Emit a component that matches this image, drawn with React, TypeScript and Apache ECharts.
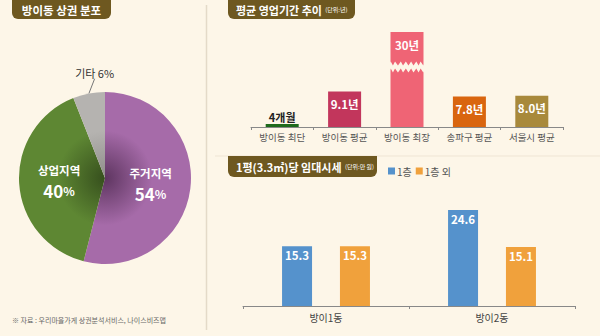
import React, { useEffect, useRef } from 'react';
import * as echarts from 'echarts';

const pieNames = ['주거지역', '상업지역', '기타'];
const pieValues = [54, 40, 6];

const periodCats = ['방이동 최단', '방이동 평균', '방이동 최장', '송파구 평균', '서울시 평균'];
const periodValues = [0.33, 9.1, 30, 7.8, 8.0];
const periodLabels = ['4개월', '9.1년', '30년', '7.8년', '8.0년'];

const rentCats = ['방이1동', '방이2동'];
const rentSeriesNames = ['1층', '1층 외'];
const rentFirst = [15.3, 24.6];
const rentOther = [15.3, 15.1];

const BG = '#fdf6e8';
const FONT = '"Noto Sans CJK KR", "Noto Sans", sans-serif';
const BOX = '#6e5820';

const pieColors = [
  ['#5e3560', '#a66ba9'],
  ['#364f1d', '#5e8733'],
  ['#8f8d8a', '#b5b3b0'],
];
const periodColors = ['#1e6a1c', '#c2365c', '#ef6475', '#d9650f', '#a8893b'];
const rentColors = ['#5592cc', '#f0a13c'];

export default function App() {
  const ref = useRef<HTMLDivElement>(null);
  useEffect(() => {
    if (!ref.current) return;
    const chart = echarts.init(ref.current, undefined, { renderer: 'svg' });
    const pieCenter = [105, 178];
    const pieR = 86;
    const radial = (c: string[]) => ({
      type: 'radial',
      x: pieCenter[0],
      y: pieCenter[1],
      r: pieR,
      global: true,
      colorStops: [
        { offset: 0, color: c[0] },
        { offset: 0.55, color: c[1] },
        { offset: 1, color: c[1] },
      ],
    });
    const option: any = {
      animation: false,
      backgroundColor: BG,
      textStyle: { fontFamily: FONT },
      legend: {
        data: rentSeriesNames,
        left: 383,
        top: 161,
        itemWidth: 7,
        itemHeight: 7,
        itemGap: 4,
        icon: 'rect',
        textStyle: { fontSize: 10, color: '#555', fontFamily: FONT, padding: [0, 0, 0, -3] },
      },
      grid: [
        { left: 251, right: 37, top: 32, bottom: 209, containLabel: false },
        { left: 243, right: 25, top: 189, bottom: 30, containLabel: false },
      ],
      xAxis: [
        {
          type: 'category',
          gridIndex: 0,
          data: periodCats,
          axisLine: { lineStyle: { color: '#888', width: 1 } },
          axisTick: { show: true, length: 3, lineStyle: { color: '#888' } },
          axisLabel: { color: '#555', fontSize: 9.5, margin: 5, interval: 0, fontFamily: FONT },
        },
        {
          type: 'category',
          gridIndex: 1,
          data: rentCats,
          axisLine: { lineStyle: { color: '#888', width: 1 } },
          axisTick: { show: true, length: 3, lineStyle: { color: '#888' } },
          axisLabel: { color: '#444', fontSize: 10, margin: 6, interval: 0, fontFamily: FONT },
        },
      ],
      yAxis: [
        {
          type: 'value',
          gridIndex: 0,
          min: 0,
          max: 30,
          show: true,
          axisLine: { show: false },
          axisTick: { show: false },
          axisLabel: { show: false },
          splitLine: { show: false },
          breaks: [{ start: 14.6, end: 22, gap: '7%' }],
          breakArea: {
            show: true,
            itemStyle: { color: BG, borderColor: BG, borderWidth: 0, opacity: 1 },
            zigzagAmplitude: 2,
            zigzagMinSpan: 2,
            zigzagMaxSpan: 3,
            zigzagZ: 100,
            expandOnClick: false,
          },
          breakLabelLayout: { moveOverlap: false },
        },
        {
          type: 'value',
          gridIndex: 1,
          min: 0,
          max: 30,
          show: false,
          splitLine: { show: false },
        },
      ],
      series: [
        {
          type: 'pie',
          center: pieCenter,
          radius: pieR,
          startAngle: 90,
          clockwise: true,
          avoidLabelOverlap: false,
          itemStyle: { borderWidth: 0 },
          labelLayout: (p: any) => {
            if (p.dataIndex !== 2 || !p.labelLinePoints) return {};
            const pts = p.labelLinePoints;
            const end = pts[pts.length - 1];
            return { x: end[0] + 8, y: end[1] - 3, align: 'center', verticalAlign: 'bottom' };
          },
          data: pieNames.map((n, i) => ({
            name: n,
            value: pieValues[i],
            itemStyle: { color: radial(pieColors[i]) },
            label:
              i < 2
                ? {
                    show: true,
                    position: 'inside',
                    formatter: (p: any) => `{n|${p.name}}\n{v|${p.value}}{q|%}`,
                    rich: {
                      n: { fontSize: 11.5, fontWeight: 'bold', color: '#fff', fontFamily: FONT, lineHeight: 20 },
                      v: { fontSize: 17, fontWeight: 'bold', color: '#fff', fontFamily: FONT, lineHeight: 22 },
                      q: { fontSize: 12, fontWeight: 'bold', color: '#fff', fontFamily: FONT, lineHeight: 22 },
                    },
                  }
                : {
                    show: true,
                    position: 'outside',
                    formatter: (p: any) => `${p.name} ${p.value}%`,
                    color: '#333',
                    fontSize: 11,
                    fontFamily: FONT,
                  },
            labelLine:
              i < 2
                ? { show: false }
                : { show: true, length: 12, length2: 0, lineStyle: { color: '#777', width: 1 } },
          })),
        },
        {
          type: 'bar',
          xAxisIndex: 0,
          yAxisIndex: 0,
          barWidth: 33,
          barMinHeight: 3,
          data: periodValues.map((v, i) => ({
            value: v,
            itemStyle: { color: periodColors[i] },
            label:
              i === 0
                ? { show: true, position: 'top', distance: 2, color: '#222', fontWeight: 'bold', fontSize: 11 }
                : { show: true, position: 'insideTop', distance: 7, color: '#fff', fontWeight: 'bold', fontSize: 11.5 },
          })),
          label: {
            fontFamily: FONT,
            formatter: (p: any) => periodLabels[p.dataIndex],
          },
        },
        ...[rentFirst, rentOther].map((arr, si) => ({
          type: 'bar',
          name: rentSeriesNames[si],
          xAxisIndex: 1,
          yAxisIndex: 1,
          barWidth: 30,
          barGap: '93%',
          itemStyle: { color: rentColors[si] },
          data: arr,
          label: {
            show: true,
            position: 'insideTop',
            distance: 3,
            color: '#fff',
            fontWeight: 'bold',
            fontSize: 11.5,
            fontFamily: FONT,
          },
        })),
      ],
      graphic: [
        { type: 'line', shape: { x1: 206.5, y1: 5, x2: 206.5, y2: 330 }, style: { stroke: '#e4dac8', lineWidth: 1.5 } },
        { type: 'line', shape: { x1: 215, y1: 156, x2: 600, y2: 156 }, style: { stroke: '#efe5d4', lineWidth: 1 } },
        { type: 'rect', shape: { x: 12, y: -6, width: 99, height: 25, r: 6 }, style: { fill: BOX } },
        {
          type: 'text',
          x: 61.5,
          y: 9.5,
          style: { text: '방이동 상권 분포', fill: '#fff', font: `bold 11.5px ${FONT}`, align: 'center', verticalAlign: 'middle' },
        },
        { type: 'rect', shape: { x: 228, y: -6, width: 127, height: 25, r: 6 }, style: { fill: BOX } },
        {
          type: 'text',
          x: 236,
          y: 9.5,
          style: {
            text: '{a|평균 영업기간 추이} {b|(단위:년)}',
            verticalAlign: 'middle',
            rich: {
              a: { fill: '#fff', fontSize: 11, fontWeight: 'bold', fontFamily: FONT },
              b: { fill: '#fff', fontSize: 6, fontFamily: FONT },
            },
          },
        },
        { type: 'rect', shape: { x: 228, y: 156, width: 149, height: 21, r: [0, 0, 6, 6] }, style: { fill: BOX } },
        {
          type: 'text',
          x: 236,
          y: 166.5,
          style: {
            text: '{a|1평(3.3㎡)당 임대시세} {b|(단위:만 원)}',
            verticalAlign: 'middle',
            rich: {
              a: { fill: '#fff', fontSize: 11, fontWeight: 'bold', fontFamily: FONT },
              b: { fill: '#fff', fontSize: 6, fontFamily: FONT },
            },
          },
        },
        {
          type: 'text',
          x: 12,
          y: 320,
          style: { text: '※ 자료 : 우리마을가게 상권분석서비스, 나이스비즈맵', fill: '#666', font: `7px ${FONT}`, verticalAlign: 'middle' },
        },
      ],
    };
    chart.setOption(option);
    return () => chart.dispose();
  }, []);
  return <div ref={ref} style={{ position: 'fixed', left: 0, top: 0, width: 600, height: 336 }} />;
}
